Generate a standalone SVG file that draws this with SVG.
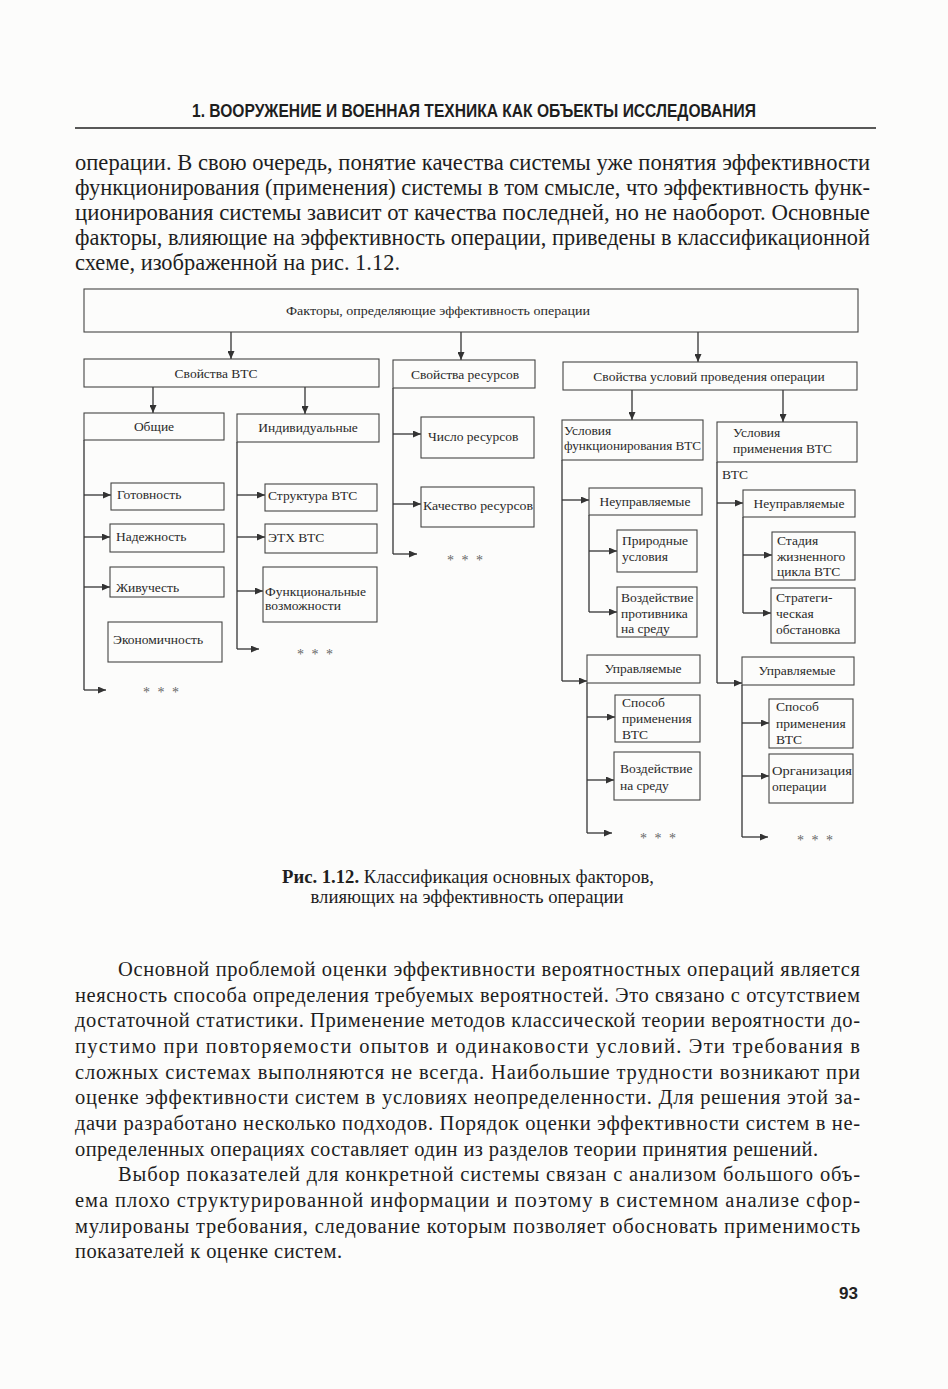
<svg xmlns="http://www.w3.org/2000/svg" width="948" height="1389" viewBox="0 0 948 1389">
<defs>
<marker id="ah" markerUnits="userSpaceOnUse" markerWidth="8" markerHeight="7" refX="8" refY="3.5" orient="auto"><path d="M0,0 L8,3.5 L0,7 z" fill="#333"/></marker>
<style>
.bg{fill:#fcfcfb}
.hd{font-family:"Liberation Sans",Arial,sans-serif;font-weight:bold;font-size:19px;fill:#1e1e1e}
.bt{font-family:"Liberation Serif","Times New Roman",serif;font-size:20.5px;fill:#1e1e1e}
.bt1{font-family:"Liberation Serif","Times New Roman",serif;font-size:22.5px;fill:#1e1e1e}
.cap{font-family:"Liberation Serif","Times New Roman",serif;font-size:18px;fill:#1e1e1e}
.nt{font-family:"Liberation Serif","Times New Roman",serif;font-size:13.5px;fill:#2a2a2a}
.nc{text-anchor:middle}
.st{font-family:"Liberation Serif","Times New Roman",serif;font-size:14px;fill:#666;letter-spacing:2px}
.bx{fill:none;stroke:#444;stroke-width:1.1}
.cn{fill:none;stroke:#333;stroke-width:1.3}
.ar{fill:none;stroke:#333;stroke-width:1.3;marker-end:url(#ah)}
.pn{font-family:"Liberation Sans",Arial,sans-serif;font-weight:bold;font-size:17px;fill:#222}
</style>
</defs>
<rect class="bg" x="0" y="0" width="948" height="1389"/>

<g id="page-header">
<text class="hd" x="192" y="117" textLength="564" lengthAdjust="spacingAndGlyphs">1. ВООРУЖЕНИЕ И ВОЕННАЯ ТЕХНИКА КАК ОБЪЕКТЫ ИССЛЕДОВАНИЯ</text>
<line x1="75" y1="128" x2="876" y2="128" stroke="#222" stroke-width="1.3"/>
</g>

<g id="para1">
<text class="bt1" x="75" y="170" textLength="795" lengthAdjust="spacingAndGlyphs">операции. В свою очередь, понятие качества системы уже понятия эффективности</text>
<text class="bt1" x="75" y="195" textLength="795" lengthAdjust="spacingAndGlyphs">функционирования (применения) системы в том смысле, что эффективность функ-</text>
<text class="bt1" x="75" y="220" textLength="795" lengthAdjust="spacingAndGlyphs">ционирования системы зависит от качества последней, но не наоборот. Основные</text>
<text class="bt1" x="75" y="245" textLength="795" lengthAdjust="spacingAndGlyphs">факторы, влияющие на эффективность операции, приведены в классификационной</text>
<text class="bt1" x="75" y="270" textLength="325" lengthAdjust="spacingAndGlyphs">схеме, изображенной на рис. 1.12.</text>
</g>

<g id="connectors">
<line class="ar" x1="231" y1="332" x2="231" y2="359"/>
<line class="ar" x1="461" y1="332" x2="461" y2="360"/>
<line class="ar" x1="698" y1="332" x2="698" y2="362"/>
<line class="ar" x1="153" y1="387" x2="153" y2="413"/>
<line class="ar" x1="305" y1="387" x2="305" y2="414"/>
<line class="ar" x1="632" y1="390" x2="632" y2="420"/>
<line class="ar" x1="783" y1="390" x2="783" y2="422"/>
<line class="cn" x1="84" y1="440" x2="84" y2="690"/>
<line class="ar" x1="84" y1="690" x2="106" y2="690"/>
<line class="ar" x1="84" y1="495" x2="111" y2="495"/>
<line class="ar" x1="84" y1="537" x2="110" y2="537"/>
<line class="ar" x1="84" y1="587" x2="110" y2="587"/>
<line class="cn" x1="237" y1="442" x2="237" y2="649"/>
<line class="ar" x1="237" y1="649" x2="259" y2="649"/>
<line class="ar" x1="237" y1="495" x2="265" y2="495"/>
<line class="ar" x1="237" y1="537" x2="265" y2="537"/>
<line class="ar" x1="237" y1="591" x2="263" y2="591"/>
<line class="cn" x1="393" y1="388" x2="393" y2="554"/>
<line class="ar" x1="393" y1="554" x2="417" y2="554"/>
<line class="ar" x1="393" y1="434" x2="421" y2="434"/>
<line class="ar" x1="393" y1="504" x2="421" y2="504"/>
<line class="cn" x1="562" y1="460" x2="562" y2="681"/>
<line class="ar" x1="562" y1="500" x2="589" y2="500"/>
<line class="ar" x1="562" y1="681" x2="587" y2="681"/>
<line class="cn" x1="589" y1="515" x2="589" y2="612"/>
<line class="ar" x1="589" y1="551" x2="617" y2="551"/>
<line class="ar" x1="589" y1="612" x2="617" y2="612"/>
<line class="cn" x1="587" y1="683" x2="587" y2="833"/>
<line class="ar" x1="587" y1="717" x2="615" y2="717"/>
<line class="ar" x1="587" y1="780" x2="614" y2="780"/>
<line class="ar" x1="587" y1="833" x2="612" y2="833"/>
<line class="cn" x1="717" y1="462" x2="717" y2="683"/>
<line class="ar" x1="717" y1="503" x2="743" y2="503"/>
<line class="ar" x1="717" y1="683" x2="742" y2="683"/>
<line class="cn" x1="743" y1="517" x2="743" y2="613"/>
<line class="ar" x1="743" y1="555" x2="772" y2="555"/>
<line class="ar" x1="743" y1="613" x2="771" y2="613"/>
<line class="cn" x1="742" y1="685" x2="742" y2="837"/>
<line class="ar" x1="742" y1="723" x2="769" y2="723"/>
<line class="ar" x1="742" y1="776" x2="769" y2="776"/>
<line class="ar" x1="742" y1="837" x2="768" y2="837"/>
</g>

<g id="n-root"><rect class="bx" x="84" y="289" width="774" height="43"/><text class="nt nc" x="438" y="315" textLength="304" lengthAdjust="spacingAndGlyphs">Факторы, определяющие эффективность операции</text></g>
<g id="n-svva"><rect class="bx" x="84" y="359" width="295" height="28"/><text class="nt nc" x="216" y="378">Свойства ВТС</text></g>
<g id="n-svres"><rect class="bx" x="393" y="360" width="142" height="28"/><text class="nt nc" x="465" y="379">Свойства ресурсов</text></g>
<g id="n-svusl"><rect class="bx" x="563" y="362" width="294" height="28"/><text class="nt nc" x="709" y="381">Свойства условий проведения операции</text></g>

<g id="n-obsh"><rect class="bx" x="84" y="413" width="140" height="27"/><text class="nt nc" x="154" y="431">Общие</text></g>
<g id="n-ind"><rect class="bx" x="237" y="414" width="142" height="28"/><text class="nt nc" x="308" y="432">Индивидуальные</text></g>
<g id="n-uf"><rect class="bx" x="562" y="420" width="141" height="40"/><text class="nt" x="564" y="435">Условия</text><text class="nt" x="564" y="450" textLength="137" lengthAdjust="spacingAndGlyphs">функционирования ВТС</text></g>
<g id="n-up"><rect class="bx" x="717" y="422" width="140" height="40"/><text class="nt" x="733" y="437">Условия</text><text class="nt" x="733" y="453">применения ВТС</text><text class="nt" x="722" y="479">ВТС</text></g>

<g id="n-got"><rect class="bx" x="111" y="483" width="113" height="27"/><text class="nt" x="117" y="499">Готовность</text></g>
<g id="n-nad"><rect class="bx" x="110" y="524" width="114" height="28"/><text class="nt" x="116" y="541">Надежность</text></g>
<g id="n-zhiv"><rect class="bx" x="110" y="567" width="114" height="30"/><text class="nt" x="116" y="592">Живучесть</text></g>
<g id="n-ekon"><rect class="bx" x="108" y="622" width="114" height="40"/><text class="nt" x="113" y="644">Экономичность</text></g>
<text class="st" x="143" y="697">* * *</text>

<g id="n-strukt"><rect class="bx" x="265" y="484" width="112" height="27"/><text class="nt" x="268" y="500" font-size="14.5">Структура ВТС</text></g>
<g id="n-eth"><rect class="bx" x="265" y="524" width="112" height="29"/><text class="nt" x="268" y="542" font-size="14.5">ЭТХ ВТС</text></g>
<g id="n-func"><rect class="bx" x="263" y="567" width="114" height="55"/><text class="nt" x="265" y="596">Функциональные</text><text class="nt" x="265" y="610" font-size="12.5">возможности</text></g>
<text class="st" x="297" y="659">* * *</text>

<g id="n-chislo"><rect class="bx" x="421" y="417" width="113" height="41"/><text class="nt" x="428" y="441">Число ресурсов</text></g>
<g id="n-kach"><rect class="bx" x="421" y="487" width="113" height="40"/><text class="nt" x="423" y="510" textLength="110" lengthAdjust="spacingAndGlyphs">Качество ресурсов</text></g>
<text class="st" x="447" y="565">* * *</text>

<g id="n-neupr1"><rect class="bx" x="589" y="488" width="113" height="27"/><text class="nt nc" x="645" y="506">Неуправляемые</text></g>
<g id="n-prir"><rect class="bx" x="617" y="530" width="80" height="42"/><text class="nt" x="622" y="545">Природные</text><text class="nt" x="622" y="561">условия</text></g>
<g id="n-vozpr"><rect class="bx" x="617" y="587" width="80" height="50"/><text class="nt" x="621" y="602">Воздействие</text><text class="nt" x="621" y="618">противника</text><text class="nt" x="621" y="633">на среду</text></g>
<g id="n-upr1"><rect class="bx" x="587" y="655" width="113" height="28"/><text class="nt nc" x="643" y="673">Управляемые</text></g>
<g id="n-sposob1"><rect class="bx" x="615" y="695" width="85" height="47"/><text class="nt" x="622" y="707">Способ</text><text class="nt" x="622" y="723">применения</text><text class="nt" x="622" y="739">ВТС</text></g>
<g id="n-vozsr"><rect class="bx" x="614" y="752" width="86" height="48"/><text class="nt" x="620" y="773">Воздействие</text><text class="nt" x="620" y="790">на среду</text></g>
<text class="st" x="640" y="843">* * *</text>

<g id="n-neupr2"><rect class="bx" x="743" y="490" width="112" height="27"/><text class="nt nc" x="799" y="508">Неуправляемые</text></g>
<g id="n-stad"><rect class="bx" x="772" y="532" width="83" height="48"/><text class="nt" x="777" y="545">Стадия</text><text class="nt" x="777" y="561">жизненного</text><text class="nt" x="777" y="576">цикла ВТС</text></g>
<g id="n-strat"><rect class="bx" x="771" y="588" width="84" height="55"/><text class="nt" x="776" y="602">Стратеги-</text><text class="nt" x="776" y="618">ческая</text><text class="nt" x="776" y="634">обстановка</text></g>
<g id="n-upr2"><rect class="bx" x="742" y="657" width="112" height="28"/><text class="nt nc" x="797" y="675">Управляемые</text></g>
<g id="n-sposob2"><rect class="bx" x="769" y="699" width="84" height="49"/><text class="nt" x="776" y="711">Способ</text><text class="nt" x="776" y="728">применения</text><text class="nt" x="776" y="744">ВТС</text></g>
<g id="n-org"><rect class="bx" x="769" y="754" width="84" height="49"/><text class="nt" x="772" y="775" textLength="80" lengthAdjust="spacingAndGlyphs">Организация</text><text class="nt" x="772" y="791">операции</text></g>
<text class="st" x="797" y="845">* * *</text>

<g id="caption">
<text class="cap" x="468" y="883" text-anchor="middle" textLength="372" lengthAdjust="spacingAndGlyphs"><tspan font-weight="bold">Рис. 1.12.</tspan> Классификация основных факторов,</text>
<text class="cap" x="467" y="903" text-anchor="middle" textLength="313" lengthAdjust="spacingAndGlyphs">влияющих на эффективность операции</text>
</g>

<g id="para2">
<text class="bt" x="118" y="976" textLength="742" lengthAdjust="spacing">Основной проблемой оценки эффективности вероятностных операций является</text>
<text class="bt" x="75" y="1002" textLength="785" lengthAdjust="spacing">неясность способа определения требуемых вероятностей. Это связано с отсутствием</text>
<text class="bt" x="75" y="1027" textLength="785" lengthAdjust="spacing">достаточной статистики. Применение методов классической теории вероятности до-</text>
<text class="bt" x="75" y="1053" textLength="785" lengthAdjust="spacing">пустимо при повторяемости опытов и одинаковости условий. Эти требования в</text>
<text class="bt" x="75" y="1079" textLength="785" lengthAdjust="spacing">сложных системах выполняются не всегда. Наибольшие трудности возникают при</text>
<text class="bt" x="75" y="1104" textLength="785" lengthAdjust="spacing">оценке эффективности систем в условиях неопределенности. Для решения этой за-</text>
<text class="bt" x="75" y="1130" textLength="785" lengthAdjust="spacing">дачи разработано несколько подходов. Порядок оценки эффективности систем в не-</text>
<text class="bt" x="75" y="1156" textLength="743" lengthAdjust="spacing">определенных операциях составляет один из разделов теории принятия решений.</text>
</g>
<g id="para3">
<text class="bt" x="118" y="1181" textLength="742" lengthAdjust="spacing">Выбор показателей для конкретной системы связан с анализом большого объ-</text>
<text class="bt" x="75" y="1207" textLength="785" lengthAdjust="spacing">ема плохо структурированной информации и поэтому в системном анализе сфор-</text>
<text class="bt" x="75" y="1233" textLength="785" lengthAdjust="spacing">мулированы требования, следование которым позволяет обосновать применимость</text>
<text class="bt" x="75" y="1258" textLength="267" lengthAdjust="spacing">показателей к оценке систем.</text>
</g>

<text class="pn" x="858" y="1299" text-anchor="end">93</text>
</svg>
